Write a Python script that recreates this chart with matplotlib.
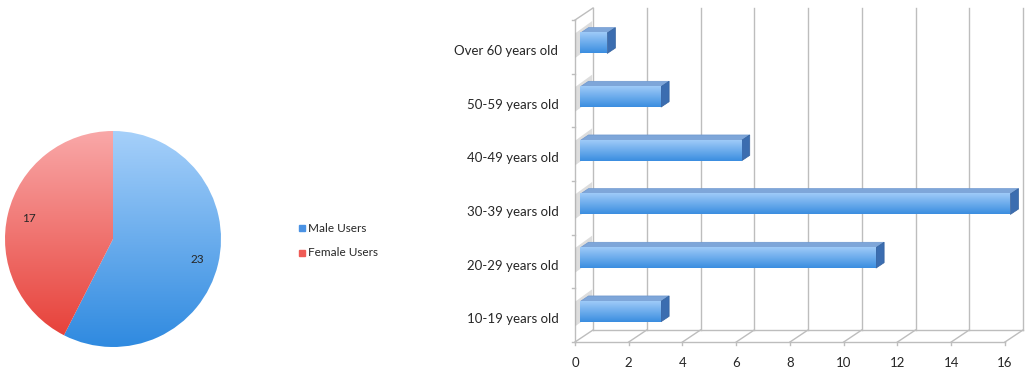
import numpy as np
import matplotlib
matplotlib.use("Agg")
import matplotlib.pyplot as plt
import matplotlib.transforms as mtransforms
from matplotlib.colors import LinearSegmentedColormap
from matplotlib.patches import Polygon


# ---------- DATA ---------- #

pie_labels = ["Male Users", "Female Users"]
pie_values = [23, 17]

age_groups = ["10-19 years old", "20-29 years old", "30-39 years old",
              "40-49 years old", "50-59 years old", "Over 60 years old"]
age_counts = [3, 11, 16, 6, 3, 1]
x_ticks = list(range(0, 17, 2))


# ---------- STYLE ---------- #

plt.rcParams['font.family'] = ['Lato', 'DejaVu Sans']
text_col = "#262626"
grid_col = "#bdbdbd"

blue_cmap = LinearSegmentedColormap.from_list("b", ["#2f8ae0", "#a6d0fa"])
red_cmap = LinearSegmentedColormap.from_list("r", ["#e63c34", "#f9a8a8"])
bar_cmap = LinearSegmentedColormap.from_list("bar", ["#3a8de0", "#9fcbf8"])

W, H = 1025, 374
fig = plt.figure(figsize=(W / 100, H / 100), dpi=100)
grad = np.linspace(0, 1, 256).reshape(-1, 1)


# ---------- PIE ---------- #

cx, cy, r = 113, 239, 108
ax_pie = fig.add_axes([(cx - r) / W, (H - cy - r) / H, 2 * r / W, 2 * r / H])
wedges, _, autotexts = ax_pie.pie(
    pie_values, startangle=90, counterclock=False,
    colors=["none", "none"], autopct=lambda p: "%d" % round(p * sum(pie_values) / 100),
    pctdistance=0.8, radius=1.0,
    textprops={"fontsize": 8.5, "color": text_col})
for w, cm in zip(wedges, [blue_cmap, red_cmap]):
    im = ax_pie.imshow(grad, extent=[-1, 1, -1, 1], origin="lower",
                       cmap=cm, aspect="auto", zorder=1)
    im.set_clip_path(w)
for t in autotexts:
    t.set_zorder(5)
ax_pie.set_xlim(-1, 1)
ax_pie.set_ylim(-1, 1)
ax_pie.set_aspect("equal")
ax_pie.axis("off")

# legend
leg_x, leg_y = 302, [228, 253]
for lab, col, yy in zip(pie_labels, ["#4a92e4", "#ef5b55"], leg_y):
    fig.patches.append(plt.Rectangle(((leg_x - 3) / W, (H - yy - 3) / H), 6 / W, 6 / H,
                                     transform=fig.transFigure, color=col))
    fig.text((leg_x + 6) / W, (H - yy) / H, lab, fontsize=8.5, color=text_col,
             va="center", ha="left")


# ---------- 3D-LOOK BAR CHART ---------- #

x_left, x_right = 575, 1023
y_bot, y_top = 342, 8
ax = fig.add_axes([x_left / W, (H - y_bot) / H, (x_right - x_left) / W, (y_bot - y_top) / H])

dx = 0.67          # depth offset in value units
dy = 0.224         # depth offset in category units
n = len(age_groups)
y_lo, y_hi = -0.5, n - 0.5

line_kw = dict(color=grid_col, lw=1, clip_on=False, zorder=1)

# back wall gridlines
for k in x_ticks:
    if k > 0:
        ax.plot([k + dx, k + dx], [y_lo + dy, y_hi + dy], **line_kw)
    ax.plot([k, k + dx], [y_lo, y_lo + dy], **line_kw)
    ax.plot([k, k], [y_lo, y_lo - 0.06], **line_kw)
# floor
ax.plot([0, 16], [y_lo, y_lo], **line_kw)
ax.plot([dx, 16 + dx], [y_lo + dy, y_lo + dy], **line_kw)
# left wall
ax.plot([0, 0], [y_lo, y_hi], **line_kw)
ax.plot([dx, dx], [y_lo + dy, y_hi + dy], **line_kw)
ax.plot([0, dx], [y_hi, y_hi + dy], **line_kw)
for k in range(n + 1):
    ax.plot([-0.12, 0], [y_lo + k, y_lo + k], **line_kw)

# bars
f0, f1 = 0.3, 0.75
bh = 0.38
for i, v in enumerate(age_counts):
    x0 = f0 * dx
    x1 = v + f0 * dx
    y0 = i - bh / 2 + f0 * dy
    y1 = y0 + bh
    ddx, ddy = (f1 - f0) * dx, (f1 - f0) * dy
    # shadow on left wall
    ax.add_patch(Polygon([(0.02, y0 - 0.08), (dx * 0.95, y0 + dy - 0.08),
                          (dx * 0.95, y1 + dy), (0.02, y1)],
                         closed=True, color="#8f8f8f", alpha=0.3, lw=0, zorder=2))
    # top face
    ax.add_patch(Polygon([(x0, y1), (x1, y1), (x1 + ddx, y1 + ddy), (x0 + ddx, y1 + ddy)],
                         closed=True, facecolor="#7ea6d9", edgecolor="#6d97cf", lw=0.5, zorder=3))
    # side face
    ax.add_patch(Polygon([(x1, y0), (x1 + ddx, y0 + ddy), (x1 + ddx, y1 + ddy), (x1, y1)],
                         closed=True, facecolor="#3b6db0", edgecolor="#34629f", lw=0.5, zorder=3))
    # front face with gradient
    ax.imshow(grad, extent=[x0, x1, y0, y1], origin="lower", cmap=bar_cmap,
              aspect="auto", zorder=4)

ax.set_xlim(0, 16 + dx)
ax.set_ylim(y_lo, y_hi + dy)
ax.set_yticks(range(n))
ax.set_yticklabels(age_groups, fontsize=9.5, color=text_col)
ax.set_xticks(x_ticks)
ax.set_xticklabels([str(k) for k in x_ticks], fontsize=9.5, color=text_col)
ax.tick_params(length=0)
ax.tick_params(axis="y", pad=12)
ax.tick_params(axis="x", pad=11)
shift = mtransforms.ScaledTranslation(0, -3 / 100, fig.dpi_scale_trans)
for lbl in ax.get_yticklabels():
    lbl.set_transform(lbl.get_transform() + shift)
for s in ax.spines.values():
    s.set_visible(False)

fig.savefig("out.png", dpi=100)
